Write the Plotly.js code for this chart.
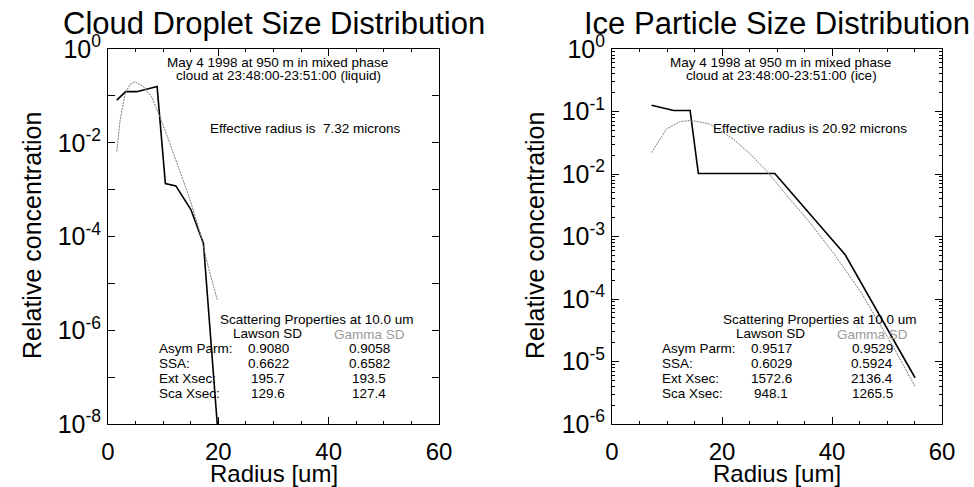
<!DOCTYPE html>
<html>
<head>
<meta charset="utf-8">
<script src="https://cdn.plot.ly/plotly-3.0.1.min.js"></script>
<style>html,body{margin:0;padding:0;background:#fff;}#chart{width:974px;height:487px;}</style>
</head>
<body>
<div id="chart"></div>
<script>
// ---------- data ----------
const liqLawsonR = [1.6, 3.2, 5.2, 8.9, 10.4, 12.3, 15.0, 17.3, 20.0];
const liqLawsonN = [0.081, 0.123, 0.123, 0.158, 1.35e-3, 1.2e-3, 3.8e-4, 7.1e-5, 5e-9];
const liqGammaR = [1.6, 2.2, 3.1, 4.0, 4.9, 6.4, 7.9, 9.4, 11.2, 13.0, 14.9, 16.7, 18.2, 19.8];
const liqGammaN = [6.5e-3, 0.031, 0.112, 0.174, 0.2, 0.158, 0.095, 0.036, 9.8e-3, 2.6e-3, 6.0e-4, 1.17e-4, 2.2e-5, 4.5e-6];

const iceLawsonR = [7.2, 11.2, 14.2, 15.7, 29.6, 42.4, 55.1];
const iceLawsonN = [0.126, 0.104, 0.104, 0.0102, 0.0102, 5.1e-4, 5.5e-6];
const iceGammaR = [7.2, 9.9, 12.4, 14.5, 17.8, 22.1, 25.1, 28.1, 31.8, 36.0, 40.2, 45.1, 51.1, 55.1];
const iceGammaN = [0.022, 0.0525, 0.069, 0.072, 0.063, 0.036, 0.021, 0.0112, 4.5e-3, 1.66e-3, 5.5e-4, 1.35e-4, 1.74e-5, 4.0e-6];

const xTicks = [0, 20, 40, 60];
const liqYTicks = [1, 1e-1, 1e-2, 1e-3, 1e-4, 1e-5, 1e-6, 1e-7, 1e-8];
const liqYText = ['10<sup>0</sup>', '', '10<sup>-2</sup>', '', '10<sup>-4</sup>', '', '10<sup>-6</sup>', '', '10<sup>-8</sup>'];
const iceYTicks = [1, 1e-1, 1e-2, 1e-3, 1e-4, 1e-5, 1e-6];
const iceYText = ['10<sup>0</sup>', '10<sup>-1</sup>', '10<sup>-2</sup>', '10<sup>-3</sup>', '10<sup>-4</sup>', '10<sup>-5</sup>', '10<sup>-6</sup>'];
const iceYMinor = [];
for (let e = -6; e < 0; e++) for (let m = 2; m <= 9; m++) iceYMinor.push(m * Math.pow(10, e));

const titles = ['Cloud Droplet Size Distribution', 'Ice Particle Size Distribution'];
const headLine1 = ['May 4 1998 at 950 m in mixed phase', 'May 4 1998 at 950 m in mixed phase'];
const headLine2 = ['cloud at 23:48:00-23:51:00 (liquid)', 'cloud at 23:48:00-23:51:00 (ice)'];
const effText = ['Effective radius is \u00a07.32 microns', 'Effective radius is 20.92 microns'];
const rowLabels = ['Asym Parm:', 'SSA:', 'Ext Xsec:', 'Sca Xsec:'];
const lawsonVals = [['0.9080', '0.6622', '195.7', '129.6'], ['0.9517', '0.6029', '1572.6', '948.1']];
const gammaVals = [['0.9058', '0.6582', '193.5', '127.4'], ['0.9529', '0.5924', '2136.4', '1265.5']];

// ---------- layout helpers ----------
const W = 974, H = 487;
const FONT = 'Liberation Sans, Arial, Helvetica, sans-serif';
const X = v => v / W, Y = v => 1 - v / H;
const offs = [0, 503];

const blackLine = {color: '#000', width: 1.6};
const grayLine = {color: '#7a7a7a', width: 1, dash: '2px,1px'};

const traces = [
  {x: liqLawsonR, y: liqLawsonN, xaxis: 'x', yaxis: 'y', mode: 'lines', line: blackLine},
  {x: liqGammaR, y: liqGammaN, xaxis: 'x', yaxis: 'y', mode: 'lines', line: grayLine},
  {x: iceLawsonR, y: iceLawsonN, xaxis: 'x2', yaxis: 'y2', mode: 'lines', line: blackLine},
  {x: iceGammaR, y: iceGammaN, xaxis: 'x2', yaxis: 'y2', mode: 'lines', line: grayLine}
];

function xax(dom, anchor) {
  return {
    domain: dom, anchor: anchor, range: [0, 60], showgrid: false, zeroline: false,
    showline: true, linecolor: '#000', linewidth: 1, mirror: 'allticks',
    tickmode: 'array', tickvals: xTicks, ticks: 'inside', ticklen: 7, tickcolor: '#000', tickwidth: 1,
    minor: {dtick: 5, tick0: 0, ticks: 'inside', ticklen: 3, tickcolor: '#000'},
    tickfont: {family: FONT, size: 24, color: '#000'}, ticklabelstandoff: 6
  };
}
function yax(dom, anchor, rng, tv, tt, minor) {
  const a = {
    domain: dom, anchor: anchor, type: 'log', range: rng, showgrid: false, zeroline: false,
    showline: true, linecolor: '#000', linewidth: 1, mirror: 'allticks',
    tickmode: 'array', tickvals: tv, ticktext: tt, ticks: 'inside', ticklen: 7, tickcolor: '#000', tickwidth: 1,
    tickfont: {family: FONT, size: 25, color: '#000'}, ticklabelstandoff: 1
  };
  if (minor) a.minor = {tickmode: 'array', tickvals: minor, ticks: 'inside', ticklen: 3, tickcolor: '#000'};
  return a;
}

const yDom = [Y(424), Y(49)];
const annotations = [];
function ann(text, x, y, opts) {
  annotations.push(Object.assign({
    text: text, x: X(x), y: Y(y), xref: 'paper', yref: 'paper', showarrow: false,
    xanchor: 'center', yanchor: 'middle', font: {family: FONT, size: 13.5, color: '#000'}
  }, opts || {}));
}
const plotCenters = [273.5, 777];
for (let p = 0; p < 2; p++) {
  const o = offs[p];
  ann(titles[p], plotCenters[p], 24, {font: {family: FONT, size: 31, color: '#000'}});
  ann('Relative concentration', 32 + o, 236, {textangle: -90, font: {family: FONT, size: 25, color: '#000'}});
  ann('Radius [um]', plotCenters[p], 473, {font: {family: FONT, size: 24, color: '#000'}});
  ann(headLine1[p], 277 + o, 63);
  ann(headLine2[p], 278 + o, 76);
  ann(effText[p], 208 + o, 128, {xanchor: 'left'});
  ann('Scattering Properties at 10.0 um', 218 + o, 319, {xanchor: 'left'});
  ann('Lawson SD', 267 + o, 333);
  ann('Gamma SD', 369 + o, 334, {font: {family: FONT, size: 13.5, color: '#9a9a9a'}});
  for (let i = 0; i < rowLabels.length; i++) {
    const yy = 348 + i * 15;
    ann(rowLabels[i], 157 + o, yy, {xanchor: 'left'});
    ann(lawsonVals[p][i], 268 + o, yy);
    ann(gammaVals[p][i], 369 + o, yy);
  }
}

const layout = {
  width: W, height: H, margin: {l: 0, r: 0, t: 0, b: 0},
  paper_bgcolor: '#fff', plot_bgcolor: '#fff', showlegend: false,
  xaxis: xax([X(108), X(439)], 'y'),
  yaxis: yax(yDom, 'x', [-8, 0], liqYTicks, liqYText, null),
  xaxis2: xax([X(612), X(942)], 'y2'),
  yaxis2: yax(yDom, 'x2', [-6, 0], iceYTicks, iceYText, iceYMinor),
  annotations: annotations
};

Plotly.newPlot('chart', traces, layout, {staticPlot: true, displayModeBar: false});
</script>
</body>
</html>
